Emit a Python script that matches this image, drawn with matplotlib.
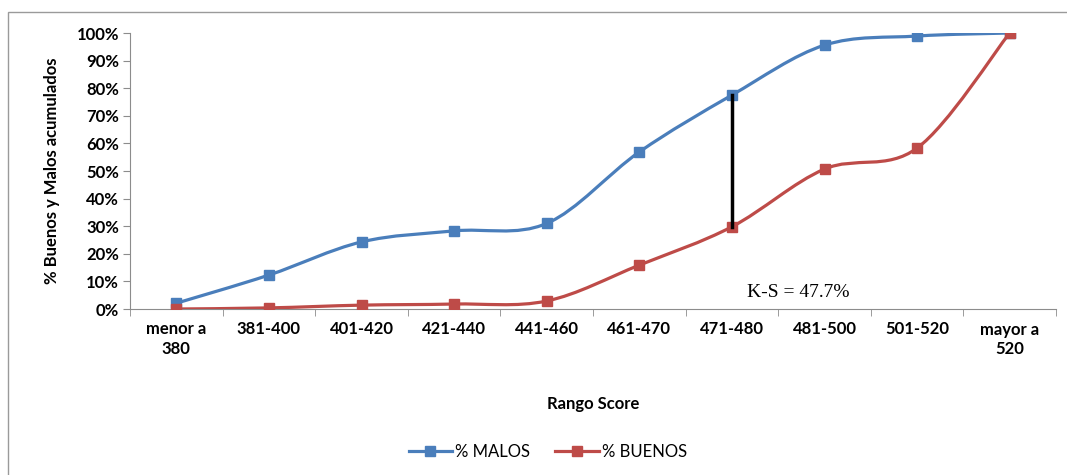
import numpy as np
import matplotlib.pyplot as plt
from matplotlib.path import Path
from matplotlib.patches import PathPatch, Rectangle
from matplotlib.lines import Line2D

plt.rcParams['font.family'] = ['Lato', 'DejaVu Sans']

rangos = ["menor a\n380", "381-400", "401-420", "421-440", "441-460",
          "461-470", "471-480", "481-500", "501-520", "mayor a\n520"]
malos = [0.021, 0.123, 0.243, 0.283, 0.31, 0.569, 0.775, 0.956, 0.989, 1.0]
buenos = [0.0, 0.004, 0.014, 0.018, 0.029, 0.159, 0.298, 0.507, 0.583, 1.0]
ks_idx = 6

azul = '#4A7EBB'
rojo = '#BE4B48'


def curva_suave(ax, xs, ys, color):
    # bezier con puntos de control estilo Excel (1/6 del vecino)
    pts = np.column_stack([xs, ys]).astype(float)
    n = len(pts)
    verts = [pts[0]]
    codes = [Path.MOVETO]
    for i in range(n - 1):
        p0 = pts[i - 1] if i > 0 else pts[i]
        p1 = pts[i]
        p2 = pts[i + 1]
        p3 = pts[i + 2] if i + 2 < n else pts[i + 1]
        c1 = p1 + (p2 - p0) / 6.0
        c2 = p2 - (p3 - p1) / 6.0
        verts += [c1, c2, p2]
        codes += [Path.CURVE4] * 3
    ax.add_patch(PathPatch(Path(verts, codes), facecolor='none',
                           edgecolor=color, lw=2.3, zorder=3))
    ax.plot(xs, ys, ls='none', marker='s', ms=6.5, color=color, zorder=4)


fig = plt.figure(figsize=(10.67, 4.75), dpi=100)
fig.patches.append(Rectangle((8 / 1067, -0.01), 1.0, 1 - 12 / 475 + 0.01,
                             transform=fig.transFigure, fill=False,
                             edgecolor='#9a9a9a', lw=1.0))

ax = fig.add_axes([130 / 1067, 1 - 309 / 475, 926 / 1067, 276 / 475])
x = np.arange(len(rangos))
curva_suave(ax, x, malos, azul)
curva_suave(ax, x, buenos, rojo)

# distancia K-S
ax.plot([x[ks_idx], x[ks_idx]], [buenos[ks_idx], malos[ks_idx]],
        color='black', lw=2.5, zorder=5)
ks = malos[ks_idx] - buenos[ks_idx]
ax.text(x[ks_idx] + 0.72, 0.06, f"K-S = {ks * 100:.1f}%",
        family='Liberation Serif', fontsize=14, ha='center', va='center')

ax.set_xlim(-0.5, len(rangos) - 0.5)
ax.set_ylim(0, 1)
ax.set_yticks(np.arange(0, 1.01, 0.1))
ax.set_yticklabels([f"{int(round(v * 100))}%" for v in np.arange(0, 1.01, 0.1)],
                   fontsize=12, fontweight='bold')
ax.set_xticks(x)
ax.set_xticklabels(rangos, fontsize=12, fontweight='bold', linespacing=1.3)
ax.set_xticks(np.arange(-0.5, len(rangos), 1), minor=True)
ax.tick_params(axis='x', which='major', length=0, pad=9)
ax.tick_params(axis='x', which='minor', length=5, color='#8c8c8c')
ax.tick_params(axis='y', length=5, color='#8c8c8c', pad=3)
for s in ['top', 'right']:
    ax.spines[s].set_visible(False)
for s in ['left', 'bottom']:
    ax.spines[s].set_color('#8c8c8c')
ax.set_ylabel("% Buenos y Malos acumulados", fontsize=12, fontweight='bold',
              labelpad=12)
ax.set_xlabel("Rango Score", fontsize=12, fontweight='bold', labelpad=28)

handles = [Line2D([], [], color=azul, lw=2.3, marker='s', ms=6.5),
           Line2D([], [], color=rojo, lw=2.3, marker='s', ms=6.5)]
fig.legend(handles, ["% MALOS", "% BUENOS"], loc='center',
           bbox_to_anchor=(548 / 1067, 1 - 452 / 475), ncol=2, frameon=False,
           fontsize=12, handlelength=2.6, columnspacing=1.5, handletextpad=0.2)

fig.savefig('out.png', dpi=100)
